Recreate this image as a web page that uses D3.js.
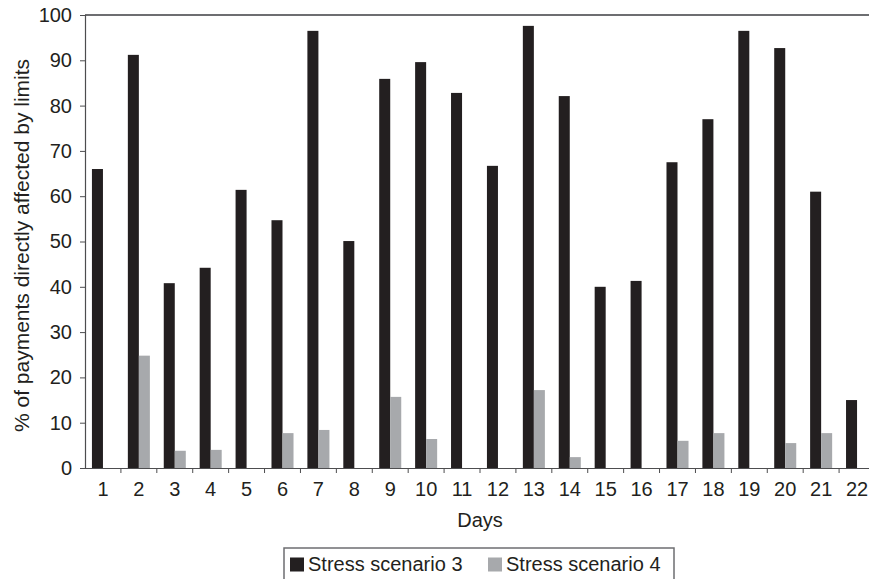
<!DOCTYPE html>
<html>
<head>
<meta charset="utf-8">
<script src="https://cdn.jsdelivr.net/npm/d3@7"></script>
<style>
  html, body { margin: 0; padding: 0; background: #fff; }
  svg { display: block; }
  text { font-family: "Liberation Sans", Arial, sans-serif; fill: #231f20; }
</style>
</head>
<body>
<svg id="chart" width="869" height="579"></svg>
<script>
const days = ["1","2","3","4","5","6","7","8","9","10","11","12","13","14","15","16","17","18","19","20","21","22"];
const seriesNames = ["Stress scenario 3", "Stress scenario 4"];
const scenario3 = [66.0, 91.2, 40.8, 44.2, 61.4, 54.7, 96.5, 50.1, 85.9, 89.6, 82.8, 66.7, 97.6, 82.1, 40.0, 41.3, 67.5, 77.0, 96.5, 92.7, 61.0, 15.0];
const scenario4 = [0, 24.8, 3.8, 4.0, 0, 7.7, 8.4, 0, 15.7, 6.4, 0, 0, 17.2, 2.4, 0, 0, 6.0, 7.7, 0, 5.5, 7.7, 0];
const yTicks = [0, 10, 20, 30, 40, 50, 60, 70, 80, 90, 100];
const colors = ["#231f20", "#a7a9ac"];

(function () {
const svg = d3.select("#chart");
const mLeft = 85, mRight = 875, mTop = 15, mBottom = 468;
const FS = 20;

const x0 = d3.scaleBand().domain(days).range([mLeft, mRight]).padding(0);
const x1 = d3.scaleBand().domain(seriesNames).range([0, x0.bandwidth()]).paddingInner(0).paddingOuter(0.63);
const y = d3.scaleLinear().domain([0, 100]).range([mBottom, mTop]);

const data = days.map((d, i) => ({ day: d, values: [scenario3[i], scenario4[i]] }));

// top frame line
svg.append("line")
  .attr("x1", mLeft).attr("x2", mRight).attr("y1", y(100)).attr("y2", y(100))
  .attr("stroke", "#6d6e71").attr("stroke-width", 2);

// bars
const g = svg.append("g");
g.selectAll("g.day").data(data).join("g")
  .attr("class", "day")
  .attr("transform", d => `translate(${x0(d.day)},0)`)
  .selectAll("rect").data(d => d.values.map((v, j) => ({ s: seriesNames[j], v, j })))
  .join("rect")
  .attr("x", d => x1(d.s))
  .attr("width", x1.bandwidth())
  .attr("y", d => y(d.v))
  .attr("height", d => y(0) - y(d.v))
  .attr("fill", d => colors[d.j]);

// y axis
const yAxis = svg.append("g").attr("transform", `translate(${mLeft},0)`)
  .call(d3.axisLeft(y).tickValues(yTicks).tickSize(5).tickPadding(8).tickFormat(d3.format("d")));
yAxis.select(".domain").attr("stroke", "#4d4d4f").attr("stroke-width", 1.2);
yAxis.selectAll(".tick line").attr("stroke", "#4d4d4f");
yAxis.selectAll("text").style("font-size", FS + "px").attr("fill", "#231f20")
  .style("font-family", '"Liberation Sans", Arial, sans-serif');

// x axis
const xAxis = svg.append("g").attr("transform", `translate(0,${mBottom})`)
  .call(d3.axisBottom(x0).tickSize(0).tickPadding(14));
xAxis.select(".domain").attr("stroke", "#4d4d4f").attr("stroke-width", 1.2);
xAxis.selectAll("text").style("font-size", FS + "px").attr("fill", "#231f20")
  .style("font-family", '"Liberation Sans", Arial, sans-serif');
xAxis.selectAll("line.bound").data(days).join("line")
  .attr("class", "bound")
  .attr("x1", d => x0(d) + x0.bandwidth()).attr("x2", d => x0(d) + x0.bandwidth())
  .attr("y1", 0).attr("y2", 5)
  .attr("stroke", "#4d4d4f");

// axis titles
svg.append("text")
  .attr("transform", `translate(29,${(mTop + mBottom) / 2 + 4}) rotate(-90)`)
  .attr("text-anchor", "middle")
  .style("font-size", "21px")
  .text("% of payments directly affected by limits");

svg.append("text")
  .attr("x", (mLeft + mRight) / 2).attr("y", 527)
  .attr("text-anchor", "middle")
  .style("font-size", FS + "px")
  .text("Days");

// legend
const leg = svg.append("g");
leg.append("rect")
  .attr("x", 284).attr("y", 548).attr("width", 390).attr("height", 45)
  .attr("fill", "none").attr("stroke", "#6d6e71").attr("stroke-width", 1.5);
const legX = [290, 488];
seriesNames.forEach((s, i) => {
  leg.append("rect").attr("x", legX[i]).attr("y", 557.5).attr("width", 14).attr("height", 14).attr("fill", colors[i]);
  leg.append("text").attr("x", legX[i] + 18).attr("y", 571).style("font-size", FS + "px").text(s);
});
})();
</script>
</body>
</html>
